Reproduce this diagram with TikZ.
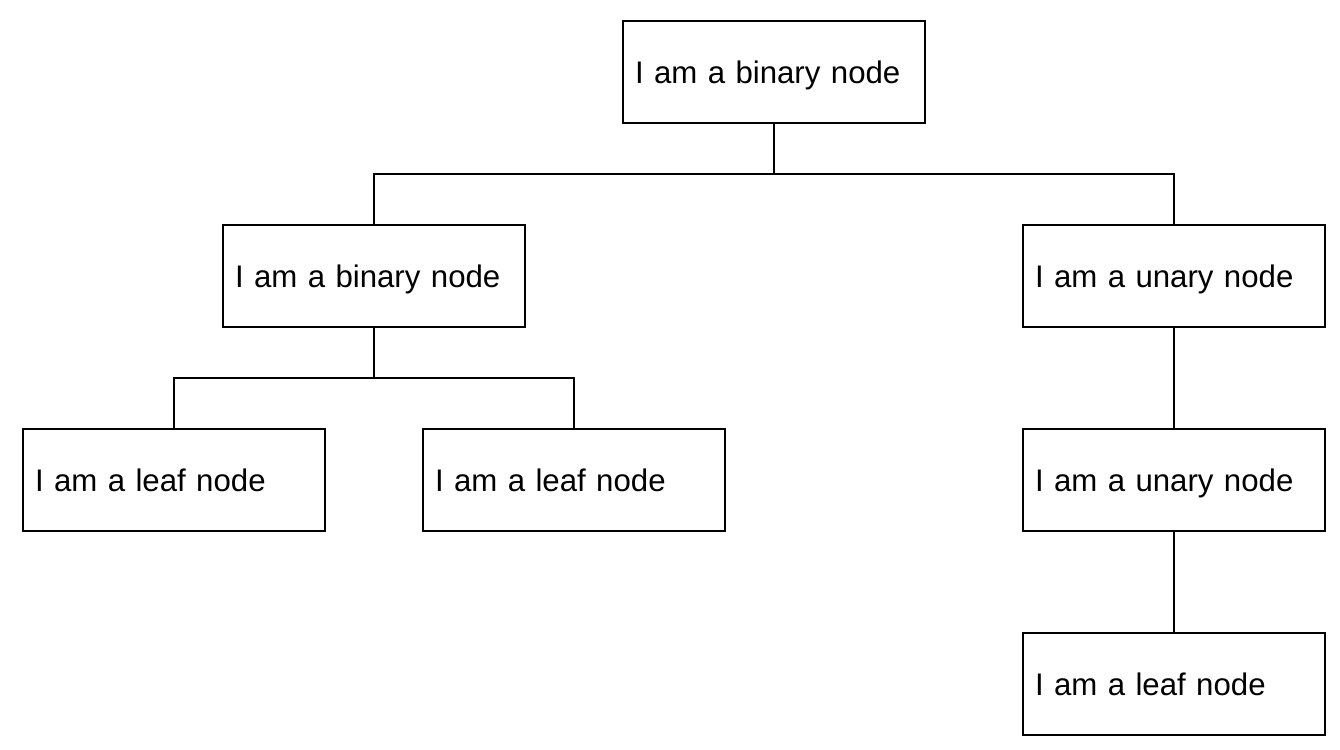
\documentclass[tikz,border=0pt]{standalone}
\usepackage{fontspec}
\setmainfont{Liberation Sans}
\usetikzlibrary{positioning}

\begin{document}
\begin{tikzpicture}[
        node distance = 50.2pt and 49pt,
        punkt/.style = {rectangle, draw, line width=0.8pt, minimum width=151pt, minimum height=51pt,
                        text width=139pt, text height=13.3pt, text depth=1.7pt, inner sep=6pt, align=left},
        pil/.style = {black, line width=0.8pt},
        font=\fontsize{15.6pt}{19pt}\selectfont
        ]
        \useasboundingbox (0,0) rectangle (670pt,-375pt);

        \node[punkt] (root) at (387pt,-36pt) {I am a binary node};
        \node[punkt] (bin) [below=of root, xshift=-200pt] {I am a binary node};
        \node[punkt] (un1) [below=of root, xshift=200pt] {I am a unary node};
        \node[punkt] (leafA) [below=of bin, xshift=-100pt] {I am a leaf node};
        \node[punkt] (leafB) [below=of bin, xshift=100pt] {I am a leaf node};
        \node[punkt] (un2) [below=of un1] {I am a unary node};
        \node[punkt] (leafC) [below=of un2] {I am a leaf node};

        \draw[pil] (root.south) -- ++(0,-25pt) coordinate (rootfork);
        \draw[pil] (bin.north) |- (rootfork) -| (un1.north);
        \draw[pil] (bin.south) -- ++(0,-25pt) coordinate (binfork);
        \draw[pil] (leafA.north) |- (binfork) -| (leafB.north);
        \draw[pil] (un1) edge (un2)
        (un2) edge (leafC);

      \end{tikzpicture}
\end{document}
